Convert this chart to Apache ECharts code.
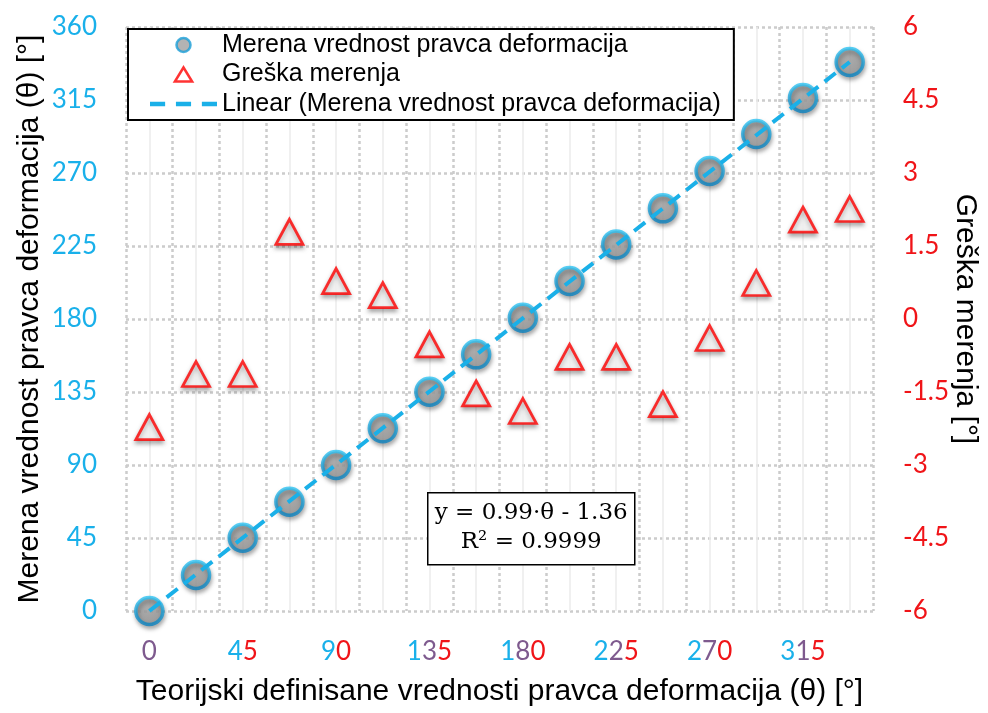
<!DOCTYPE html>
<html><head><meta charset="utf-8">
<script src="https://cdn.jsdelivr.net/npm/echarts@6/dist/echarts.min.js"></script>
<style>html,body{margin:0;padding:0;background:#fff}#c{width:988px;height:713px}</style>
</head><body><div id="c"></div>
<script>
// ---- data ----
const theta = [0, 22.5, 45, 67.5, 90, 112.5, 135, 157.5, 180, 202.5, 225, 247.5, 270, 292.5, 315, 337.5];
const measured = [0, 22.2, 45.2, 67.4, 90.0, 112.6, 135.2, 158.2, 180.8, 203.4, 226.0, 248.2, 271.2, 294.0, 316.2, 338.4];
const errors = [-2.22, -1.13, -1.13, 1.79, 0.78, 0.49, -0.52, -1.53, -1.89, -0.78, -0.78, -1.75, -0.39, 0.74, 2.04, 2.26];
const trendX = [0, 337.5];
const trendY = [0, 338.4];
const xTickLabels = [0, 45, 90, 135, 180, 225, 270, 315];
const xRange = [-11.25, 348.75, 22.5];
const yLeftRange = [0, 360, 45];
const yRightRange = [-6, 6, 1.5];
const names = ['Merena vrednost pravca deformacija', 'Greška merenja', 'Linear (Merena vrednost pravca deformacija)'];
const equationLines = ['y = 0.99·θ - 1.36', 'R² = 0.9999'];

const BLUE = '#19b0ea', RED = '#f01418', MIX = '#7e5a8e';
const dotted = { color: '#cccccc', width: 2.5, type: [3, 3] };
const titleFont = { fontSize: 30, fontFamily: 'Liberation Sans', color: '#000' };

const chart = echarts.init(document.getElementById('c'), null, { renderer: 'canvas' });
chart.setOption({
  animation: false,
  backgroundColor: '#fff',
  grid: { left: 126, right: 115, top: 27, bottom: 102, outerBoundsMode: 'none', containLabel: false },
  legend: {
    orient: 'vertical', left: 128, top: 29,
    itemWidth: 67, itemHeight: 14, itemGap: 4.5,
    padding: [3.5, 13, 3.5, 22],
    borderColor: '#000', borderWidth: 2, backgroundColor: '#fff', borderRadius: 0,
    selectedMode: false, symbolKeepAspect: true,
    textStyle: { fontSize: 25, fontFamily: 'Liberation Sans', color: '#000' },
    data: [
      { name: names[0], icon: 'circle', itemStyle: { color: '#a0a0a0', borderColor: '#1a9fd8', borderWidth: 2.5 } },
      { name: names[1], icon: 'path://M8,0L16,13L0,13Z', itemStyle: { color: '#fff', borderColor: '#ff0000', borderWidth: 2.5 } },
      { name: names[2], icon: 'path://M0,0h14v4h-14zM24,0h14v4h-14zM48,0h14v4h-14z', itemStyle: { color: '#1ab0e8', borderWidth: 0 } }
    ]
  },
  xAxis: {
    type: 'value', min: xRange[0], max: xRange[1], interval: xRange[2],
    axisLine: { show: false }, axisTick: { show: false },
    splitLine: { show: true, lineStyle: dotted },
    minorTick: { show: false, splitNumber: 2 },
    minorSplitLine: { show: true, lineStyle: { color: '#ececec', width: 1.5 } },
    axisLabel: {
      customValues: xTickLabels, margin: 28,
      formatter: function (v) {
        const s = String(v), n = s.length;
        return s.split('').map(function (ch, i) {
          const k = n === 1 ? 'm' : (i === 0 ? 'b' : (i === n - 1 ? 'r' : 'm'));
          return '{' + k + '|' + ch + '}';
        }).join('');
      },
      rich: {
        b: { color: BLUE, fontSize: 26, fontFamily: 'Lato' },
        m: { color: MIX, fontSize: 26, fontFamily: 'Lato' },
        r: { color: RED, fontSize: 26, fontFamily: 'Lato' }
      }
    },
    name: 'Teorijski definisane vrednosti pravca deformacija (θ) [°]',
    nameLocation: 'middle', nameGap: 66, nameMoveOverlap: false,
    nameTextStyle: titleFont
  },
  yAxis: [{
    type: 'value', position: 'left', min: yLeftRange[0], max: yLeftRange[1], interval: yLeftRange[2],
    axisLine: { show: false }, axisTick: { show: false },
    splitLine: { show: true, lineStyle: dotted },
    axisLabel: { color: BLUE, fontSize: 26, fontFamily: 'Lato', margin: 29 },
    name: 'Merena vrednost pravca deformacija (θ) [°]',
    nameLocation: 'middle', nameGap: 81, nameRotate: 90, nameMoveOverlap: false,
    nameTextStyle: titleFont
  }, {
    type: 'value', position: 'right', min: yRightRange[0], max: yRightRange[1], interval: yRightRange[2],
    axisLine: { show: false }, axisTick: { show: false },
    splitLine: { show: false },
    axisLabel: { color: RED, fontSize: 26, fontFamily: 'Lato', margin: 30 },
    name: 'Greška merenja [°]',
    nameLocation: 'middle', nameGap: 77, nameRotate: -90, nameMoveOverlap: false,
    nameTextStyle: titleFont
  }],
  series: [{
    name: names[0], type: 'scatter', z: 3,
    symbol: 'circle', symbolSize: 27,
    itemStyle: {
      color: { type: 'radial', x: 0.45, y: 0.4, r: 0.6, colorStops: [{ offset: 0, color: '#a8a8a8' }, { offset: 1, color: '#939393' }] },
      borderColor: { type: 'linear', x: 0, y: 0, x2: 0, y2: 1, colorStops: [{ offset: 0, color: '#30c6f5' }, { offset: 1, color: '#0a7fbd' }] },
      borderWidth: 3.5,
      shadowColor: 'rgba(0,0,0,0.35)', shadowBlur: 4, shadowOffsetX: 1, shadowOffsetY: 3
    },
    data: theta.map(function (x, i) { return [x, measured[i]]; })
  }, {
    name: names[1], type: 'scatter', yAxisIndex: 1, z: 3,
    symbol: 'triangle', symbolSize: [27, 25],
    itemStyle: {
      color: '#fff', borderColor: '#ff0000', borderWidth: 2.8,
      shadowColor: 'rgba(0,0,0,0.35)', shadowBlur: 4, shadowOffsetX: 0, shadowOffsetY: 3
    },
    data: theta.map(function (x, i) { return [x, errors[i]]; })
  }, {
    name: names[2], type: 'line', z: 5, symbol: 'none', silent: true,
    lineStyle: { color: '#1ab0e8', width: 4, type: [14, 8] },
    itemStyle: { color: '#1ab0e8' },
    data: trendX.map(function (x, i) { return [x, trendY[i]]; })
  }],
  graphic: [{
    type: 'group', left: 427, top: 492, z: 100,
    children: [
      { type: 'rect', z: 100, shape: { x: 0, y: 0, width: 207, height: 72 }, style: { fill: '#fff', stroke: '#000', lineWidth: 1.5 } },
      { type: 'text', z: 101, x: 103.5, y: 6, style: { text: equationLines.join('\n'), font: '23px "DejaVu Serif"', fill: '#000', align: 'center', verticalAlign: 'top', lineHeight: 29 } }
    ]
  }]
});
</script>
</body></html>
